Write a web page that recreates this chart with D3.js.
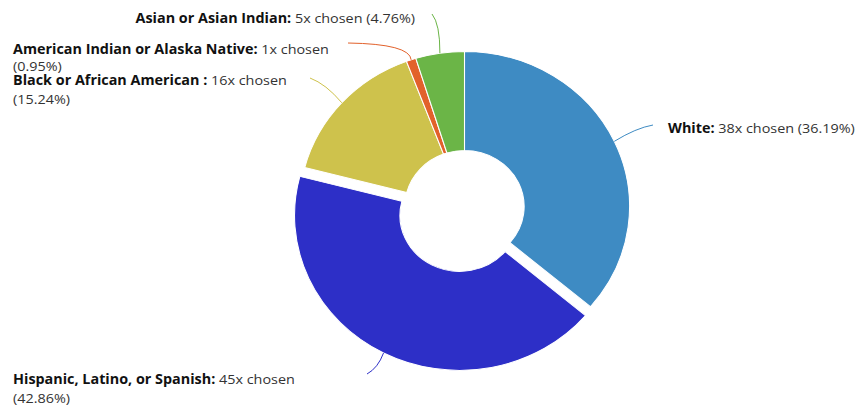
<!DOCTYPE html>
<html>
<head>
<meta charset="utf-8">
<script src="https://cdn.jsdelivr.net/npm/d3@7"></script>
<style>
  html, body { margin: 0; padding: 0; background: #fff; }
  svg { display: block; }
  .lbl { font-family: "Open Sans", sans-serif; font-size: 13.5px; fill: #333; }
  .lbl .name { font-weight: bold; fill: #111; }
</style>
</head>
<body>
<svg id="chart" width="858" height="406"></svg>
<script>
// Survey answers, in drawing order (clockwise from 12 o'clock)
const categories = [
  "White",
  "Hispanic, Latino, or Spanish",
  "Black or African American ",
  "American Indian or Alaska Native",
  "Asian or Asian Indian"
];
const counts = [38, 45, 16, 1, 5];
const percentLabels = ["36.19%", "42.86%", "15.24%", "0.95%", "4.76%"];
const colors = ["#3e8bc3", "#2d2fc7", "#cec24c", "#e2612b", "#6bb547"];
const sliced = [false, true, false, false, false];

// Layout
const W = 858, H = 406;
const cx = 464.5, cy = 206.5;
const outerR = 155, innerR = 56;
const stretchX = 1.065;     // whole chart is drawn slightly wider than tall
const slicedOffset = 10;

// Label placement: text anchor, anchor mode, line breaks, line gap, connector start/bend
const labelLayout = [
  { x: 668, y: 133, anchor: "start", lines: 1, gap: 19, start: [653, 125], bend: [636, 128] },
  { x: 13,  y: 384, anchor: "start", lines: 2, gap: 19, start: [367, 374], bend: [378, 368] },
  { x: 13,  y: 85,  anchor: "start", lines: 2, gap: 19, start: [310, 78],  bend: [326, 84] },
  { x: 13,  y: 54,  anchor: "start", lines: 2, gap: 17, start: [348, 43],  bend: [410, 44] },
  { x: 415, y: 23,  anchor: "end",   lines: 1, gap: 19, start: [432, 14],  bend: [440, 24] }
];

const data = categories.map((c, i) => ({
  name: c, count: counts[i], pct: percentLabels[i], color: colors[i], sliced: sliced[i], layout: labelLayout[i]
}));

const svg = d3.select("#chart");

const pie = d3.pie().value(d => d.count).sort(null);
const arcs = pie(data);

const arc = d3.arc().innerRadius(innerR).outerRadius(outerR);

// Offset of a slice along its mid-angle (in unscaled pie units)
function offsetOf(a) {
  if (!a.data.sliced) return [0, 0];
  const m = (a.startAngle + a.endAngle) / 2;
  return [Math.sin(m) * slicedOffset, -Math.cos(m) * slicedOffset];
}

const pieG = svg.append("g")
  .attr("transform", `translate(${cx},${cy}) scale(${stretchX},1)`);

pieG.selectAll("path.slice")
  .data(arcs)
  .join("path")
  .attr("class", "slice")
  .attr("d", arc)
  .attr("transform", a => { const o = offsetOf(a); return `translate(${o[0]},${o[1]})`; })
  .attr("fill", a => a.data.color)
  .attr("stroke", "#ffffff")
  .attr("stroke-width", 1)
  .attr("stroke-linejoin", "round");

// Connector end on the outer edge at each slice's mid-angle, in page coords
function edgePoint(a) {
  const m = (a.startAngle + a.endAngle) / 2;
  const o = offsetOf(a);
  const px = (Math.sin(m) * outerR + o[0]) * stretchX + cx;
  const py = (-Math.cos(m) * outerR + o[1]) + cy;
  return [px, py];
}

svg.append("g").selectAll("path.conn")
  .data(arcs)
  .join("path")
  .attr("class", "conn")
  .attr("fill", "none")
  .attr("stroke", a => a.data.color)
  .attr("stroke-width", 1)
  .attr("d", a => {
    const L = a.data.layout;
    const e = edgePoint(a);
    return `M${L.start[0]},${L.start[1]} Q${L.bend[0]},${L.bend[1]} ${e[0]},${e[1]}`;
  });

// Data labels (text carries the same horizontal stretch as the pie)
const lblG = svg.append("g");
function addText(x, y, anchor) {
  return lblG.append("text")
    .attr("class", "lbl")
    .attr("transform", `translate(${x},${y}) scale(${stretchX},1)`)
    .attr("text-anchor", anchor);
}
data.forEach(d => {
  const L = d.layout;
  const t = addText(L.x, L.y, L.anchor);
  t.append("tspan").attr("class", "name").text(d.name + ":");
  if (L.lines === 1) {
    t.append("tspan").text(` ${d.count}x chosen (${d.pct})`);
  } else {
    t.append("tspan").text(` ${d.count}x chosen`);
    addText(L.x, L.y + L.gap, "start").text(`(${d.pct})`);
  }
});
</script>
</body>
</html>
